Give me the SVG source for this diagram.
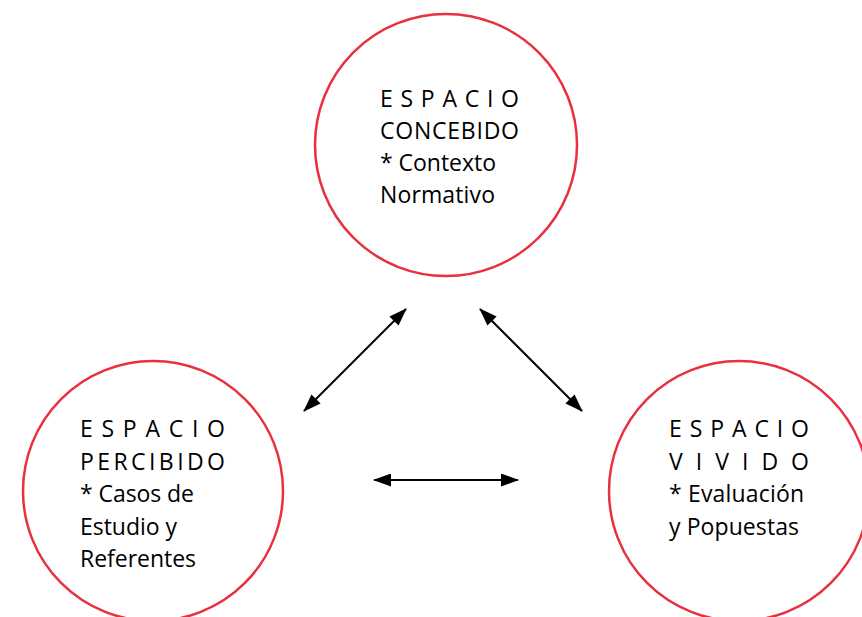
<svg xmlns="http://www.w3.org/2000/svg" width="862" height="617" viewBox="0 0 862 617">
<style>
.node circle{fill:none;stroke:#E8303F;stroke-width:2.5}
.node text{font-family:"Open Sans","Noto Sans","Liberation Sans",sans-serif;font-size:23px;fill:#000}
.conn line{stroke:#000;stroke-width:2}
</style>
<defs>
<marker id="ah" viewBox="0 0 18 13" refX="17" refY="6.5" markerWidth="18" markerHeight="13" markerUnits="userSpaceOnUse" orient="auto-start-reverse">
<path d="M0,0 L18,6.5 L0,13 z" fill="#000"/>
</marker>
</defs>
<rect width="862" height="617" fill="#fff"/>
<g id="concebido" class="node">
<circle cx="446" cy="145" r="131"/>
<text x="380" y="107" textLength="139" lengthAdjust="spacing">E S P A C I O</text>
<text x="380" y="139" textLength="139" lengthAdjust="spacing">CONCEBIDO</text>
<text x="380" y="171" textLength="116" lengthAdjust="spacing">* Contexto</text>
<text x="380" y="203" textLength="115" lengthAdjust="spacing">Normativo</text>
</g>
<g id="percibido" class="node">
<circle cx="153" cy="491" r="130"/>
<text x="80" y="437" textLength="145" lengthAdjust="spacing">E S P A C I O</text>
<text x="80" y="469.5" textLength="145" lengthAdjust="spacing">P E R C I B I D O</text>
<text x="80" y="502" textLength="114" lengthAdjust="spacing">* Casos de</text>
<text x="80" y="534.5" textLength="97" lengthAdjust="spacing">Estudio y</text>
<text x="80" y="567" textLength="116" lengthAdjust="spacing">Referentes</text>
</g>
<g id="vivido" class="node">
<circle cx="739" cy="491" r="130"/>
<text x="669" y="437" textLength="140" lengthAdjust="spacing">E S P A C I O</text>
<text x="669" y="469.5" textLength="140" lengthAdjust="spacing">V I V I D O</text>
<text x="669" y="502" textLength="135" lengthAdjust="spacing">* Evaluación</text>
<text x="669" y="534.5" textLength="130" lengthAdjust="spacing">y Popuestas</text>
</g>
<g id="connectors" class="conn">
<line x1="304" y1="411" x2="406" y2="309" marker-start="url(#ah)" marker-end="url(#ah)"/>
<line x1="480" y1="309" x2="582" y2="411" marker-start="url(#ah)" marker-end="url(#ah)"/>
<line x1="374" y1="480" x2="518" y2="480" marker-start="url(#ah)" marker-end="url(#ah)"/>
</g>
</svg>
